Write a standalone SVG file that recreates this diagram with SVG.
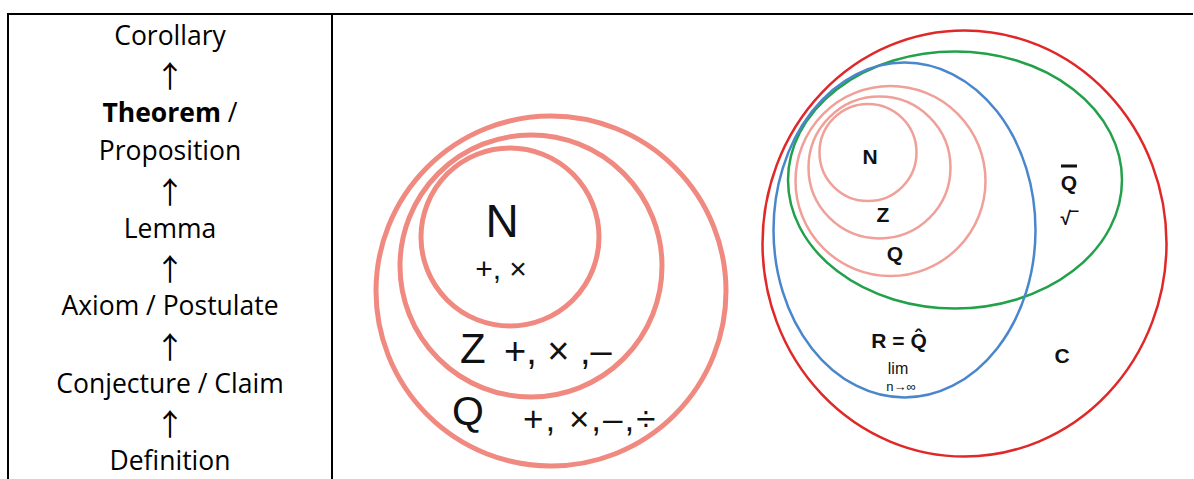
<svg xmlns="http://www.w3.org/2000/svg" width="1194" height="479" viewBox="0 0 1194 479">
<style>
.tbl{stroke:#000;stroke-width:2;fill:none}
.lt{font-family:"Open Sans","Liberation Sans",sans-serif;font-size:26.5px;fill:#000;text-anchor:middle}
.ar{font-family:"Noto Sans CJK SC","DejaVu Sans",sans-serif;font-size:30px;fill:#000;text-anchor:middle}
.big{stroke:#F08A80;stroke-width:5;fill:none}
.sm{stroke:#F0A098;stroke-width:2.5;fill:none}
.m{font-family:"Liberation Sans",Arial,sans-serif;fill:#111}
.b{font-family:"Liberation Sans",Arial,sans-serif;font-weight:bold;fill:#111;text-anchor:middle}
</style>
<rect width="1194" height="479" fill="#fff"/>
<g id="table">
<line class="tbl" x1="8" y1="14" x2="332" y2="14" stroke-width="2.5"/>
<line class="tbl" x1="332" y1="14" x2="1193" y2="14" stroke-width="1.5"/>
<line class="tbl" x1="8" y1="13" x2="8" y2="479"/>
<line class="tbl" x1="332" y1="13" x2="332" y2="479"/>
</g>
<g id="hierarchy">
<text class="lt" x="170" y="45">Corollary</text>
<text class="ar" x="170" y="87">↑</text>
<text class="lt" x="170" y="122"><tspan font-weight="bold">Theorem</tspan> /</text>
<text class="lt" x="170" y="160">Proposition</text>
<text class="ar" x="170" y="203">↑</text>
<text class="lt" x="170" y="238">Lemma</text>
<text class="ar" x="170" y="280">↑</text>
<text class="lt" x="170" y="315">Axiom / Postulate</text>
<text class="ar" x="170" y="358">↑</text>
<text class="lt" x="170" y="393">Conjecture / Claim</text>
<text class="ar" x="170" y="435">↑</text>
<text class="lt" x="170" y="470">Definition</text>
</g>
<g id="middle">
<circle class="big" cx="510" cy="237" r="89"/>
<circle class="big" cx="531" cy="266" r="131"/>
<circle class="big" cx="551" cy="291" r="175"/>
<text class="m" x="502" y="237" font-size="46" text-anchor="middle">N</text>
<text class="m" x="501" y="279" font-size="30" text-anchor="middle">+, ×</text>
<text class="m" x="460" y="363" font-size="42">Z</text>
<text class="m" x="504" y="364" font-size="38">+, × ,–</text>
<text class="m" x="452" y="425" font-size="41">Q</text>
<text class="m" x="523" y="431" font-size="35" letter-spacing="2">+, ×,–,÷</text>
</g>
<g id="right">
<ellipse cx="964.5" cy="243.5" rx="202" ry="213" fill="none" stroke="#E02828" stroke-width="2.5"/>
<ellipse cx="955" cy="180" rx="167" ry="128.5" fill="none" stroke="#22A04A" stroke-width="2.5"/>
<ellipse cx="904.5" cy="230" rx="131" ry="167.5" fill="none" stroke="#4A86CC" stroke-width="2.5"/>
<circle class="sm" cx="868" cy="152.5" r="48.5"/>
<circle class="sm" cx="879.5" cy="167.5" r="71"/>
<circle class="sm" cx="890.5" cy="181" r="95"/>
<text class="b" x="870" y="164" font-size="21">N</text>
<text class="b" x="883" y="222" font-size="21">Z</text>
<text class="b" x="895" y="261" font-size="21">Q</text>
<text class="b" x="1069" y="190" font-size="21">Q</text>
<line x1="1061" y1="166" x2="1077" y2="166" stroke="#111" stroke-width="3"/>
<text class="b" x="1069" y="225" font-size="19">√‾</text>
<text class="b" x="899" y="348" font-size="21">R = Q̂</text>
<text class="m" x="898" y="374" font-size="16" text-anchor="middle">lim</text>
<text class="m" x="901" y="391" font-size="13" text-anchor="middle">n→∞</text>
<text class="b" x="1062" y="363" font-size="21">C</text>
</g>
</svg>
